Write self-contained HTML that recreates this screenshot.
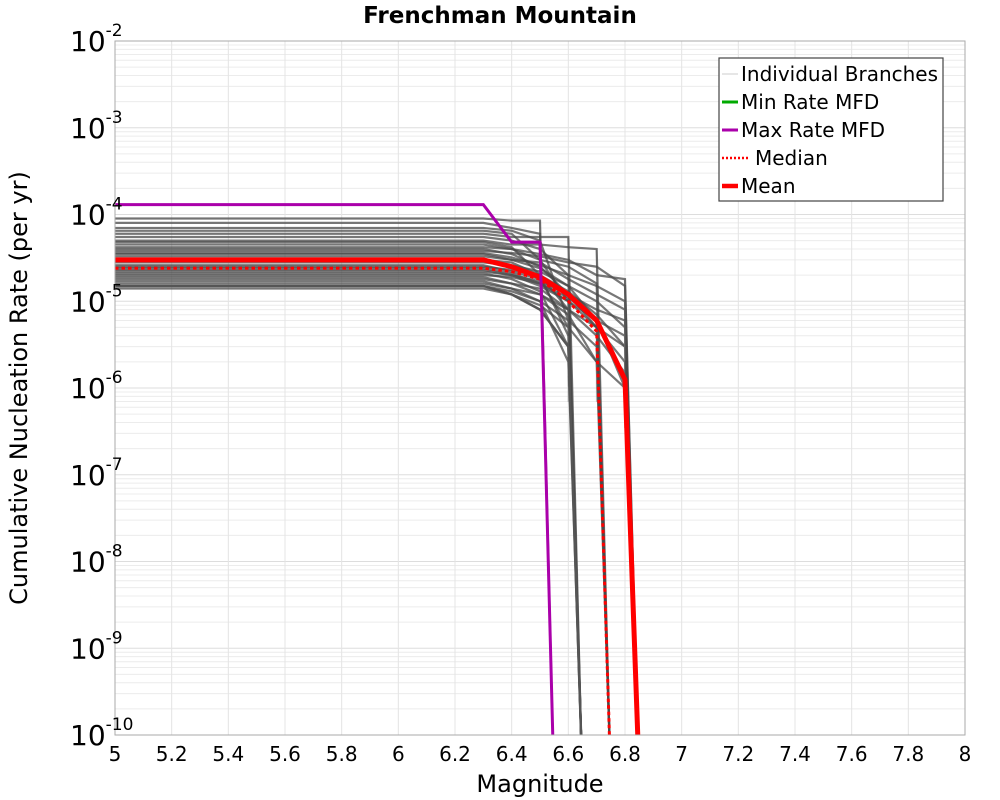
<!DOCTYPE html>
<html><head><meta charset="utf-8">
<style>
body{margin:0;background:#fff;}
svg{display:block;font-family:"DejaVu Sans","Liberation Sans",sans-serif;}
</style></head>
<body>
<svg id="chart" width="1000" height="800" xmlns="http://www.w3.org/2000/svg">
<rect x="0" y="0" width="1000" height="800" fill="#fff"/>
<g id="grid"></g>
<g id="branches"></g>
<g id="series"></g>
<rect x="115" y="41" width="850" height="694" fill="none" stroke="#aaa" stroke-width="1"/>
<g id="xticks"></g>
<g id="yticks"></g>
<text x="500" y="23" text-anchor="middle" font-size="23" font-weight="bold">Frenchman Mountain</text>
<text x="540" y="792" text-anchor="middle" font-size="24">Magnitude</text>
<text transform="translate(27,388) rotate(-90)" text-anchor="middle" font-size="24">Cumulative Nucleation Rate (per yr)</text>
<g>
  <rect x="719" y="58" width="224" height="143" fill="#fff" stroke="#444" stroke-width="1.2"/>
  <line x1="722" y1="74" x2="738" y2="74" stroke="#ccc" stroke-width="1"/>
  <text x="741" y="81" font-size="20">Individual Branches</text>
  <line x1="722" y1="102" x2="738" y2="102" stroke="#0a0" stroke-width="3"/>
  <text x="741" y="109" font-size="20">Min Rate MFD</text>
  <line x1="722" y1="130" x2="738" y2="130" stroke="#a0a" stroke-width="3"/>
  <text x="741" y="137" font-size="20">Max Rate MFD</text>
  <line x1="722" y1="158" x2="750" y2="158" stroke="#f00" stroke-width="2.5" stroke-dasharray="2,2"/>
  <text x="755" y="165" font-size="20">Median</text>
  <line x1="722" y1="186" x2="738" y2="186" stroke="#f00" stroke-width="4.5"/>
  <text x="741" y="193" font-size="20">Mean</text>
</g>
</svg>
<script>
const mags = [5, 6.3, 6.4, 6.5, 6.6, 6.7, 6.8];
const xTicks = [5,5.2,5.4,5.6,5.8,6,6.2,6.4,6.6,6.8,7,7.2,7.4,7.6,7.8,8];
const yTickExps = [-2,-3,-4,-5,-6,-7,-8,-9,-10];
const maxRate = [1.3e-4,1.3e-4,4.8e-5,4.8e-5];
const minRate = [1.5e-5,1.5e-5,1.2e-5,8e-6,3e-6];
const meanRate = [3.0e-5,3.0e-5,2.5e-5,1.9e-5,1.2e-5,6.0e-6,1.25e-6];
const medianRate = [2.4e-5,2.4e-5,2.2e-5,1.8e-5,1.0e-5,4.5e-6];
const branches = [
 [9.0e-5,9.0e-5,8.5e-5,8.5e-5],
 [8.0e-5,8.0e-5,7.0e-5,6.0e-5],
 [7.0e-5,7.0e-5,6.5e-5,5.0e-5,6.0e-6],
 [6.0e-5,6.0e-5,5.5e-5,5.5e-5,5.5e-5],
 [5.5e-5,5.5e-5,5.0e-5,4.0e-5,2.0e-5],
 [5.0e-5,5.0e-5,4.5e-5,4.5e-5,4.2e-5,4.0e-5],
 [4.5e-5,4.5e-5,4.0e-5,3.0e-5,2.5e-5,1.6e-5],
 [4.2e-5,4.2e-5,4.0e-5,3.5e-5,3.0e-5,2.0e-5,1.8e-5],
 [4.0e-5,4.0e-5,3.5e-5,2.5e-5,1.2e-5,5.0e-6],
 [3.8e-5,3.8e-5,3.6e-5,3.3e-5,2.8e-5,2.5e-5,1.5e-5],
 [3.5e-5,3.5e-5,3.0e-5,2.4e-5,1.5e-5,6.0e-6,1.0e-6],
 [3.3e-5,3.3e-5,3.0e-5,2.8e-5,1.8e-5,1.2e-5,8.0e-6],
 [3.0e-5,3.0e-5,2.8e-5,2.0e-5,8.0e-6],
 [2.8e-5,2.8e-5,2.6e-5,2.2e-5,1.5e-5,1.0e-5,5.0e-6],
 [2.6e-5,2.6e-5,2.2e-5,1.8e-5,5.0e-6],
 [2.5e-5,2.5e-5,2.3e-5,2.0e-5,1.3e-5,7.0e-6,3.0e-6],
 [2.4e-5,2.4e-5,2.1e-5,1.6e-5,1.0e-5,6.0e-6],
 [2.2e-5,2.2e-5,2.0e-5,1.5e-5,1.0e-5,5.0e-6,2.0e-6],
 [2.1e-5,2.1e-5,1.8e-5,1.3e-5,3.0e-6],
 [2.0e-5,2.0e-5,1.9e-5,1.6e-5,1.1e-5,6.0e-6,4.0e-6],
 [1.9e-5,1.9e-5,1.6e-5,1.2e-5,7.0e-6,2.0e-6],
 [1.8e-5,1.8e-5,1.6e-5,1.4e-5,8.0e-6,4.0e-6,1.5e-6],
 [1.7e-5,1.7e-5,1.4e-5,1.0e-5,2.0e-6],
 [1.6e-5,1.6e-5,1.4e-5,1.2e-5,8.0e-6,5.0e-6,3.0e-6],
 [1.5e-5,1.5e-5,1.3e-5,1.0e-5,6.0e-6,3.0e-6],
 [1.4e-5,1.4e-5,1.2e-5,9.0e-6,5.0e-6,2.0e-6,1.0e-6],
 [6.5e-5,6.5e-5,6.0e-5,3.0e-5,1.0e-5],
 [4.8e-5,4.8e-5,4.2e-5,2.0e-5,4.0e-6],
 [3.6e-5,3.6e-5,3.2e-5,2.6e-5,2.0e-5,1.5e-5,1.0e-5],
 [2.3e-5,2.3e-5,2.0e-5,1.7e-5,1.2e-5,8.0e-6,6.0e-6]
];
const X0=115,X1=965,Y0=41,Y1=735;
const xs = m => X0+(m-5)/(8-5)*(X1-X0);
const ys = v => Y0+(-2-Math.log10(v))/8*(Y1-Y0);
const NS="http://www.w3.org/2000/svg";
function mk(tag,parent){const e=document.createElementNS(NS,tag);parent.appendChild(e);return e;}
const grid=document.getElementById('grid');
for(let e=-10;e<-2;e++){for(let k=1;k<10;k++){
  const y=ys(k*Math.pow(10,e));
  const l=mk('line',grid);
  
  
  l.setAttribute('x1',X0);l.setAttribute('x2',X1);l.setAttribute('y1',y);l.setAttribute('y2',y);
  l.setAttribute('stroke',k==1?'#ddd':'#ececec');l.setAttribute('stroke-width',1);
}}
xTicks.forEach(t=>{
  const l=mk('line',grid);
  
  
  l.setAttribute('x1',xs(t));l.setAttribute('x2',xs(t));l.setAttribute('y1',Y0);l.setAttribute('y2',Y1);
  l.setAttribute('stroke','#e4e4e4');l.setAttribute('stroke-width',1);
  const tx=mk('text',document.getElementById('xticks'));
  
  
  tx.setAttribute('x',xs(t));tx.setAttribute('y',761);tx.setAttribute('text-anchor','middle');tx.setAttribute('font-size','20');
  tx.textContent=String(t);
});
yTickExps.forEach(e=>{
  const y=ys(Math.pow(10,e));
  const tx=mk('text',document.getElementById('yticks'));
  
  
  tx.setAttribute('x',70);tx.setAttribute('y',y+10);tx.setAttribute('font-size','28');
  tx.textContent='10';
  const sp=mk('tspan',tx);
  sp.setAttribute('dy','-15');sp.setAttribute('font-size','17');
  sp.textContent=String(e);
});
function drop(vals){
  const p=vals.map((v,i)=>xs(mags[i])+','+ys(v));
  const last=mags[vals.length-1];
  p.push(xs(last+0.045)+','+ys(1e-10));
  return p.join(' ');
}
const bg=document.getElementById('branches');
branches.forEach(b=>{
  const last=mags[b.length-1];
  const v=mk('line',bg);
  
  
  v.setAttribute('x1',xs(last));v.setAttribute('x2',xs(last));v.setAttribute('y1',ys(b[b.length-1]));v.setAttribute('y2',ys(b[b.length-1])+40);
  v.setAttribute('stroke','#999');v.setAttribute('stroke-width',1.5);v.setAttribute('opacity',0.6);
  const p=mk('polyline',bg);
  
  
  p.setAttribute('points',drop(b));
  p.setAttribute('fill','none');p.setAttribute('stroke','#4a4a4a');p.setAttribute('stroke-width',2.2);p.setAttribute('opacity',0.75);
});
const sg=document.getElementById('series');
function series(vals,name,color,w,dash){
  const p=mk('polyline',sg);
  
  
  p.setAttribute('points',drop(vals));
  p.setAttribute('fill','none');p.setAttribute('stroke',color);p.setAttribute('stroke-width',w);
  if(dash)p.setAttribute('stroke-dasharray',dash);
}
series(minRate,'min-rate-line','#555',2.5);
series(medianRate,'median-line','#f00',3,'3.5,3');
series(meanRate,'mean-line','#f00',5);
series(maxRate,'max-rate-line','#a0a',3);
</script>
</body></html>
